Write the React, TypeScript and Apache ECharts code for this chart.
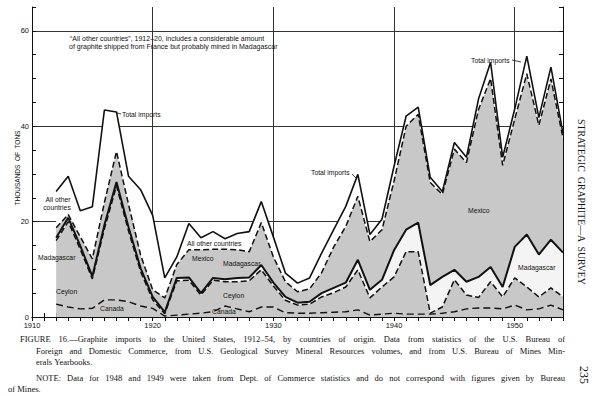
import React, { useEffect, useRef } from "react";
import * as echarts from "echarts";

const years = [
  1912, 1913, 1914, 1915, 1916, 1917, 1918, 1919, 1920, 1921,
  1922, 1923, 1924, 1925, 1926, 1927, 1928, 1929, 1930, 1931,
  1932, 1933, 1934, 1935, 1936, 1937, 1938, 1939, 1940, 1941,
  1942, 1943, 1944, 1945, 1946, 1947, 1948, 1949, 1950, 1951,
  1952, 1953, 1954,
];
// thousands of tons, by country of origin
const canada = [
  2.7, 2.1, 1.7, 1.8, 3.6, 3.6, 3.2, 2.3, 1.8, 0.2,
  0.4, 0.6, 0.8, 1.1, 2.3, 1.7, 1.1, 2.1, 2.1, 0.9,
  0.8, 0.8, 0.9, 1.0, 1.1, 1.5, 0.4, 0.6, 0.8, 0.6,
  0.6, 0.6, 0.8, 1.1, 1.7, 1.9, 1.9, 1.7, 2.5, 1.5,
  1.7, 2.5, 1.5,
];
const ceylon = [
  13.3, 17.9, 12.5, 6.2, 14.9, 23.9, 14.8, 7.2, 1.8, 0.5,
  7.2, 7.1, 3.8, 6.6, 5.1, 5.7, 6.5, 7.8, 4.4, 2.6,
  1.7, 1.9, 3.3, 4.1, 5.2, 8.4, 3.6, 5.7, 7.6, 13.1,
  13.1, 0.2, 1.3, 6.7, 2.9, 2.2, 5.5, 2.5, 5.7, 4.8,
  2.5, 3.6, 2.7,
];
const madagascar = [
  0.6, 0.8, 0.7, 0.5, 0.8, 0.8, 0.8, 0.7, 0.6, 0.3,
  0.6, 0.6, 0.4, 0.5, 0.5, 0.8, 0.7, 1.0, 0.7, 0.7,
  0.5, 0.5, 0.8, 1.0, 0.9, 2.1, 1.7, 1.5, 5.6, 4.6,
  6.1, 5.9, 6.3, 2.1, 2.8, 4.3, 3.1, 2.1, 6.5, 11.0,
  8.9, 10.1, 9.3,
];
const mexico = [
  2.1, 0.7, 1.9, 3.7, 4.7, 6.4, 4.8, 2.8, 1.5, 3.0,
  2.8, 5.8, 9.1, 6.0, 6.3, 5.9, 5.4, 8.9, 5.4, 3.2,
  2.3, 2.7, 4.3, 8.6, 11.8, 13.3, 10.1, 10.5, 14.5, 21.7,
  22.7, 21.5, 17.3, 25.3, 25.0, 35.1, 39.5, 25.5, 26.8, 33.7,
  27.1, 33.7, 24.0,
];
const allOther = [
  7.6, 8.0, 5.5, 10.9, 19.4, 8.3, 5.9, 13.7, 15.6, 4.2,
  1.6, 5.5, 2.5, 3.7, 2.2, 3.4, 4.2, 4.4, 4.2, 1.8,
  1.8, 2.3, 4.1, 3.6, 4.2, 4.6, 1.5, 2.2, 3.1, 2.1,
  1.5, 1.1, 0.6, 1.4, 1.1, 2.2, 3.4, 1.7, 2.1, 3.7,
  1.6, 2.5, 1.0,
];

// axis: 1910..1954, one tick per year
const axisYears = [
  1910, 1911, 1912, 1913, 1914, 1915, 1916, 1917, 1918, 1919,
  1920, 1921, 1922, 1923, 1924, 1925, 1926, 1927, 1928, 1929,
  1930, 1931, 1932, 1933, 1934, 1935, 1936, 1937, 1938, 1939,
  1940, 1941, 1942, 1943, 1944, 1945, 1946, 1947, 1948, 1949,
  1950, 1951, 1952, 1953, 1954,
];
const xLabelYears = [1910, 1920, 1930, 1940, 1950];
const yLabelValues = [0, 20, 40, 60];

const captionLines = [
  "FIGURE 16.\u2014Graphite imports to the United States, 1912\u201354, by countries of origin. Data from statistics of the U.S. Bureau of",
  "Foreign and Domestic Commerce, from U.S. Geological Survey Mineral Resources volumes, and from U.S. Bureau of Mines Min-",
  "erals Yearbooks.",
  "NOTE: Data for 1948 and 1949 were taken from Dept. of Commerce statistics and do not correspond with figures given by Bureau",
  "of Mines.",
];

export default function App() {
  const ref = useRef<HTMLDivElement>(null);
  useEffect(() => {
    if (!ref.current) return;
    const chart = echarts.init(ref.current, undefined, { renderer: "svg" });
    const stip = "#c8c8c8";
    const cats = axisYears.map(String);
    const pts = (arr: number[]) => years.map((y, i) => [String(y), arr[i]]);
    const names = ["Canada", "Ceylon", "Madagascar", "Mexico", "All other countries"];
    const datasets = [canada, ceylon, madagascar, mexico, allOther];
    const areaColors = [stip, stip, "#f4f4f4", stip, "#ffffff"];
    const lineStyles: any[] = [
      { color: "#111", width: 1.4, type: [7, 4] },
      { color: "#111", width: 1.5, type: [6, 3] },
      { color: "#111", width: 2 },
      { color: "#111", width: 1.5, type: [6, 3] },
      { color: "#111", width: 1.6 },
    ];
    const sans = "Liberation Sans";
    const serif = "Liberation Serif";
    const ySplit = ["#333"].concat(Array(3).fill("rgba(0,0,0,0)"));

    const areaSeries = datasets.map((d, i) => ({
      name: names[i] + " area",
      type: "line",
      stack: "area",
      data: pts(d),
      symbol: "none",
      lineStyle: { width: 0, opacity: 0 },
      areaStyle: { color: areaColors[i], opacity: 1 },
      z: 1,
      silent: true,
    }));
    const lineSeries = datasets.map((d, i) => ({
      name: names[i],
      type: "line",
      stack: "line",
      data: pts(d),
      symbol: "none",
      lineStyle: lineStyles[i],
      z: 3,
      silent: true,
    }));

    const label = (text: string, x: number, y: number, align = "left", size = 6.8) => ({
      type: "text",
      x,
      y,
      z: 100,
      style: {
        text,
        fontFamily: sans,
        fontSize: size,
        fill: "#111",
        align,
        verticalAlign: "middle",
      },
    });
    const leader = (x1: number, y1: number, x2: number, y2: number) => ({
      type: "line",
      z: 100,
      shape: { x1, y1, x2, y2 },
      style: { stroke: "#111", lineWidth: 0.8 },
    });

    // justified caption: each word placed so the line fills its measure
    const capSize = 8.5;
    const canvas = document.createElement("canvas");
    const ctx = canvas.getContext("2d")!;
    ctx.font = `${capSize}px "${serif}"`;
    const captionSpecs = [
      { x: 20, y: 339, right: 565, justify: true },
      { x: 36, y: 351, right: 565, justify: true },
      { x: 36, y: 362, right: 565, justify: false },
      { x: 36, y: 378, right: 565, justify: true },
      { x: 8, y: 389, right: 565, justify: false },
    ];
    const captionEls: any[] = [];
    captionLines.forEach((line, i) => {
      const sp = captionSpecs[i];
      const words = line.split(" ");
      const widths = words.map((w) => ctx.measureText(w).width);
      const total = widths.reduce((a, b) => a + b, 0);
      const gap = sp.justify
        ? (sp.right - sp.x - total) / (words.length - 1)
        : ctx.measureText(" ").width;
      let cx = sp.x;
      words.forEach((w, j) => {
        captionEls.push({
          type: "text",
          x: cx,
          y: sp.y,
          z: 100,
          style: {
            text: w,
            fontFamily: serif,
            fontSize: capSize,
            fill: "#111",
            align: "left",
            verticalAlign: "middle",
          },
        });
        cx += widths[j] + gap;
      });
    });

    const xAxisBase = {
      type: "category",
      data: cats,
      boundaryGap: false,
      axisLine: { show: true, lineStyle: { color: "#111", width: 1 } },
      axisTick: { show: true, inside: true, length: 4, interval: 0, lineStyle: { color: "#111" } },
    };
    const yAxisBase = {
      type: "value",
      min: 0,
      max: 65,
      interval: 5,
      axisLine: { show: true, lineStyle: { color: "#111", width: 1 } },
      axisTick: { show: true, inside: true, length: 4, lineStyle: { color: "#111" } },
    };

    chart.setOption({
      animation: false,
      backgroundColor: "#ffffff",
      grid: { left: 32, top: 7, width: 531, height: 310, containLabel: false },
      xAxis: [
        {
          ...xAxisBase,
          position: "bottom",
          axisLabel: {
            show: true,
            margin: 4,
            fontSize: 7.5,
            fontFamily: sans,
            color: "#111",
            interval: (idx: number, v: string) => xLabelYears.indexOf(Number(v)) >= 0,
          },
          splitLine: {
            show: true,
            interval: (idx: number, v: string) => xLabelYears.indexOf(Number(v)) >= 0,
            lineStyle: { color: "#333", width: 1 },
          },
        },
        {
          ...xAxisBase,
          position: "top",
          axisLabel: { show: false },
          splitLine: { show: false },
        },
      ],
      yAxis: [
        {
          ...yAxisBase,
          position: "left",
          axisLabel: {
            show: true,
            margin: 3,
            fontSize: 7.5,
            fontFamily: sans,
            color: "#111",
            formatter: (v: number) => (yLabelValues.indexOf(v) >= 0 ? String(v) : ""),
          },
          splitLine: { show: true, lineStyle: { color: ySplit, width: 1 } },
        },
        {
          ...yAxisBase,
          position: "right",
          axisLabel: { show: false },
          splitLine: { show: false },
        },
      ],
      series: [...areaSeries, ...lineSeries],
      graphic: [
        {
          type: "text",
          x: 17,
          y: 168,
          rotation: Math.PI / 2,
          z: 100,
          style: {
            text: "THOUSANDS  OF  TONS",
            fontFamily: sans,
            fontSize: 6.5,
            fill: "#111",
            align: "center",
            verticalAlign: "middle",
          },
        },
        label("\u201CAll other countries\u201D, 1912\u201320, includes a considerable amount", 70, 38, "left", 7),
        label("of graphite shipped from France but probably mined in Madagascar", 69, 46, "left", 7),
        label("Total imports", 122, 114),
        leader(117, 113, 121, 114),
        label("All other", 58, 199, "center"),
        label("countries", 57, 207, "center"),
        label("Madagascar", 38, 257),
        label("Ceylon", 56, 291),
        label("Canada", 100, 308),
        label("All other countries", 187, 243),
        label("Mexico", 192, 258),
        label("Madagascar", 223, 263),
        label("Ceylon", 223, 295),
        label("Canada", 212, 311),
        label("Total imports", 311, 172),
        leader(352, 174, 356, 178),
        label("Mexico", 468, 210),
        label("Total imports", 471, 60),
        leader(512, 60, 521, 62),
        label("Madagascar", 518, 267),
        {
          type: "text",
          x: 581,
          y: 202,
          rotation: -Math.PI / 2,
          z: 100,
          style: {
            text: "STRATEGIC  GRAPHITE\u2014A  SURVEY",
            fontFamily: serif,
            fontSize: 9.8,
            fill: "#111",
            align: "center",
            verticalAlign: "middle",
          },
        },
        {
          type: "text",
          x: 584,
          y: 375,
          rotation: -Math.PI / 2,
          z: 100,
          style: {
            text: "235",
            fontFamily: serif,
            fontSize: 12,
            fill: "#111",
            align: "center",
            verticalAlign: "middle",
          },
        },
        ...captionEls,
      ],
    });
    return () => chart.dispose();
  }, []);
  return (
    <div
      ref={ref}
      style={{ position: "fixed", left: 0, top: 0, width: 601, height: 396, background: "#fff" }}
    />
  );
}
